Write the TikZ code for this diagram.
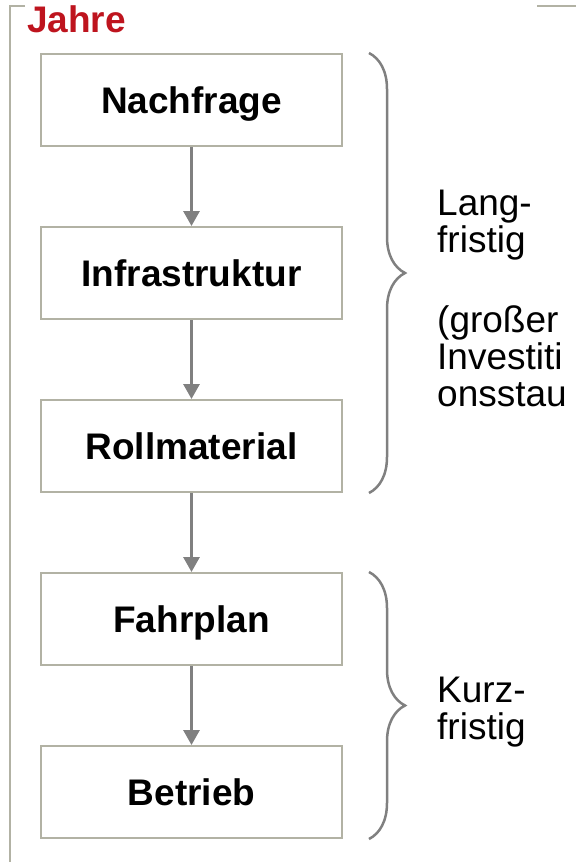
\documentclass[tikz,border=0pt]{standalone}
\usepackage{fontspec}
\setmainfont{Liberation Sans}
\usetikzlibrary{arrows.meta, positioning, decorations.pathreplacing}
\definecolor{frameGray}{RGB}{178,178,164}
\definecolor{arrowGray}{RGB}{128,128,128}
\definecolor{jahreRed}{RGB}{190,20,30}

\begin{document}
\begin{tikzpicture}[
                x=1pt, y=-1pt,
                node distance=79pt,
                box/.style={rectangle, draw=frameGray, line width=2pt, minimum width=301pt, minimum height=92pt, align=center, font=\fontsize{37}{37}\selectfont\bfseries, text height=26.5pt, text depth=0pt, inner sep=0pt},
                arrow/.style={-{Triangle[length=15pt, width=16pt]}, line width=3pt, arrowGray},
                bracket/.style={decorate, decoration={brace, amplitude=36pt}, line width=2.5pt, arrowGray},
                note/.style={anchor=base west, align=left, inner sep=0pt, font=\fontsize{37}{37}\selectfont}
            ]
                \useasboundingbox (0,0) rectangle (576,862);

                % frame
                \draw[frameGray, line width=2pt] (25,6) -- (10,6) -- (10,862);
                \draw[frameGray, line width=2pt] (537,6) -- (576,6);
                \node[anchor=base west, inner sep=0pt, text=jahreRed, font=\fontsize{37}{37}\selectfont\bfseries] (jahre) at (27,32) {Jahre};

                \node[box] (nach) at (191.5,100) {Nachfrage};
                \node[box, below=of nach] (infra) {Infrastruktur};
                \node[box, below=of infra] (roll) {Rollmaterial};
                \node[box, below=of roll] (fahr) {Fahrplan};
                \node[box, below=of fahr] (betr) {Betrieb};

                \draw[arrow] (nach) -- (infra);
                \draw[arrow] (infra) -- (roll);
                \draw[arrow] (roll) -- (fahr);
                \draw[arrow] (fahr) -- (betr);

                % braces
                \draw[bracket] ([xshift=26pt]nach.north east) -- ([xshift=26pt]roll.south east);
                \draw[bracket] ([xshift=26pt]fahr.north east) -- ([xshift=26pt]betr.south east);

                \node[note] (lang) at (437,252) {Lang-\\fristig};
                \node[note] (invest) at (437,406) {(großer\\Investiti\\onsstau};
                \node[note] (kurz) at (437,739) {Kurz-\\fristig};
            \end{tikzpicture}
\end{document}
